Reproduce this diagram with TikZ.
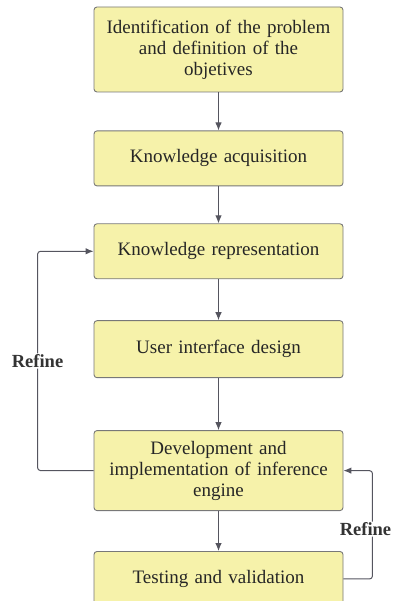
\documentclass[tikz,border=0pt]{standalone}
\usepackage{fontspec}
\setmainfont{Liberation Serif}
\usetikzlibrary{arrows.meta, positioning}
\definecolor{boxfill}{RGB}{246,242,170}
\definecolor{boxline}{RGB}{120,120,120}
\definecolor{lineclr}{RGB}{85,85,95}
\tikzstyle{stage} = [rectangle, rounded corners=3pt, draw=boxline, fill=boxfill, line width=0.9pt, minimum width=249pt, text width=235pt, minimum height=55pt, text centered, font=\fontsize{19}{21}\selectfont, text=black!85]
\tikzstyle{arrow} = [line width=1pt, draw=lineclr, -{Latex[length=8pt,width=6.5pt]}]
\tikzstyle{refine} = [font=\fontsize{18.5}{21}\selectfont\bfseries, fill=white, inner sep=1pt, text=black!80]

\begin{document}
\begin{tikzpicture}[x=1pt, y=1pt]
		\useasboundingbox (0,0) rectangle (393,601);
		\node (Identify) [stage, minimum height=85pt] at (218.5,551.5) {Identification of the problem\\and definition of the\\objetives};
		\node (Acquire) [stage, below = 38pt of Identify] {Knowledge acquisition};
		\node (Represent) [stage, below = 37pt of Acquire] {Knowledge representation};
		\node (Interface) [stage, below = 41pt of Represent, minimum height=57pt] {User interface design};
		\node (Engine) [stage, below = 52pt of Interface, minimum height=80pt] {Development and\\implementation of inference\\engine};
		\node (Testing) [stage, below = 40pt of Engine] {Testing and validation};

		\draw [arrow] (Identify) -- (Acquire);
		\draw [arrow] (Acquire) -- (Represent);
		\draw [arrow] (Represent) -- (Interface);
		\draw [arrow] (Interface) -- (Engine);
		\draw [arrow] (Engine) -- (Testing);

		% feedback loops
		\draw [arrow, rounded corners=3pt] (Engine.west) -- ++(-56pt,0) |- node[refine, pos=0.25]{Refine} (Represent.west);
		\draw [arrow, rounded corners=3pt] (Testing.east) -- ++(29pt,0) |- node[refine, pos=0.23, xshift=-7pt]{Refine} (Engine.east);
\end{tikzpicture}
\end{document}
